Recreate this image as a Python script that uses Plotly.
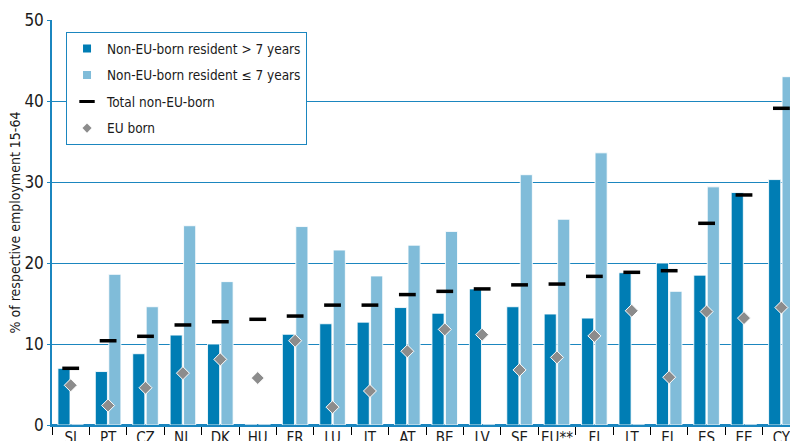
import plotly.graph_objects as go

countries = ["SI", "PT", "CZ", "NL", "DK", "HU", "FR", "LU", "IT", "AT",
             "BE", "LV", "SE", "EU**", "FI", "LT", "EL", "ES", "EE", "CY"]
non_eu_over7 = [7.0, 6.6, 8.8, 11.1, 10.0, 0, 11.2, 12.5, 12.7, 14.5,
                13.8, 16.8, 14.6, 13.7, 13.2, 18.8, 20.0, 18.5, 28.7, 30.3]
non_eu_upto7 = [0, 18.6, 14.6, 24.6, 17.7, 0, 24.5, 21.6, 18.4, 22.2,
                23.9, 0, 30.9, 25.4, 33.6, 0, 16.5, 29.4, 0, 43.0]
total_non_eu = [7.0, 10.4, 10.95, 12.35, 12.75, 13.05, 13.45, 14.8, 14.8, 16.1,
                16.5, 16.8, 17.3, 17.4, 18.35, 18.85, 19.05, 24.9, 28.4, 39.1]
eu_born = [4.9, 2.4, 4.6, 6.4, 8.1, 5.8, 10.4, 2.2, 4.2, 9.1,
           11.8, 11.15, 6.8, 8.35, 11.0, 14.1, 5.9, 14.0, 13.2, 14.5]

DARK = "#007db4"
LIGHT = "#80bcd9"
GRID = "#1b86bf"
FONT = "DejaVu Sans Condensed, DejaVu Sans, sans-serif"

fig = go.Figure()
fig.add_trace(go.Bar(x=countries, y=non_eu_over7, name="Non-EU-born resident > 7 years",
                     marker=dict(color=DARK, line=dict(color="rgba(255,255,255,0.85)", width=1)),
                     showlegend=False))
fig.add_trace(go.Bar(x=countries, y=non_eu_upto7, name="Non-EU-born resident ≤ 7 years",
                     marker=dict(color=LIGHT, line=dict(color="rgba(255,255,255,0.85)", width=1)),
                     showlegend=False))
fig.add_trace(go.Scatter(x=countries, y=total_non_eu, mode="markers", showlegend=False,
                         marker=dict(symbol="line-ew", size=12, line=dict(color="black", width=3.5))))
fig.add_trace(go.Scatter(x=countries, y=eu_born, mode="markers", showlegend=False,
                         marker=dict(symbol="diamond", size=10, color="#8c8c8c",
                                     line=dict(color="white", width=1))))

# legend entries
fig.add_trace(go.Scatter(x=[None], y=[None], mode="markers", name="Non-EU-born resident > 7 years",
                         legendgroup="a", marker=dict(symbol="square", size=8, color=DARK)))
fig.add_trace(go.Scatter(x=[None], y=[None], mode="markers", name="Non-EU-born resident ≤ 7 years",
                         legendgroup="b", marker=dict(symbol="square", size=8, color=LIGHT)))
fig.add_trace(go.Scatter(x=[None], y=[None], mode="markers", name="Total non-EU-born",
                         legendgroup="c",
                         marker=dict(symbol="line-ew", size=11, line=dict(color="black", width=3))))
fig.add_trace(go.Scatter(x=[None], y=[None], mode="markers", name="EU born",
                         legendgroup="d", marker=dict(symbol="diamond", size=7, color="#8c8c8c")))

fig.update_layout(
    template="none",
    width=790, height=441,
    margin=dict(l=52, r=0, t=20, b=16),
    paper_bgcolor="white", plot_bgcolor="white",
    barmode="group", bargap=0.28, bargroupgap=0.1,
    font=dict(family=FONT, color="#1a1a1a", size=14),
    showlegend=True,
    legend=dict(x=0.019, y=0.970, xanchor="left", yanchor="top",
                bgcolor="white", bordercolor=GRID, borderwidth=1,
                font=dict(family=FONT, size=13.5, color="#1a1a1a"),
                tracegroupgap=6, traceorder="grouped"),
)
fig.update_xaxes(
    type="category", categoryorder="array", categoryarray=countries,
    range=[-0.5, 19.23], automargin=False,
    showline=True, linecolor=GRID, linewidth=1.5,
    showgrid=False, zeroline=False,
    ticks="outside", tickson="boundaries", ticklen=8, tickcolor="black", tickwidth=1,
    tickangle=0,
    tickfont=dict(family=FONT, size=15, color="#1a1a1a"),
    ticklabelstandoff=-2,
)
fig.update_yaxes(
    range=[0, 50], automargin=False,
    tickvals=[0, 10, 20, 30, 40, 50],
    showline=True, linecolor=GRID, linewidth=1.5,
    showgrid=True, gridcolor=GRID, gridwidth=1,
    zeroline=True, zerolinecolor=GRID, zerolinewidth=1.5,
    ticks="outside", ticklen=3, tickcolor=GRID, tickwidth=1,
    tickfont=dict(family=FONT, size=17, color="#1a1a1a"),
    ticklabelstandoff=0,
    title=dict(text="% of respective employment 15-64", standoff=0,
               font=dict(family=FONT, size=14, color="#1a1a1a")),
)

fig.write_html("out.html", config={"displayModeBar": False},
               post_script="document.body.style.margin='0';document.body.style.overflow='hidden';")
